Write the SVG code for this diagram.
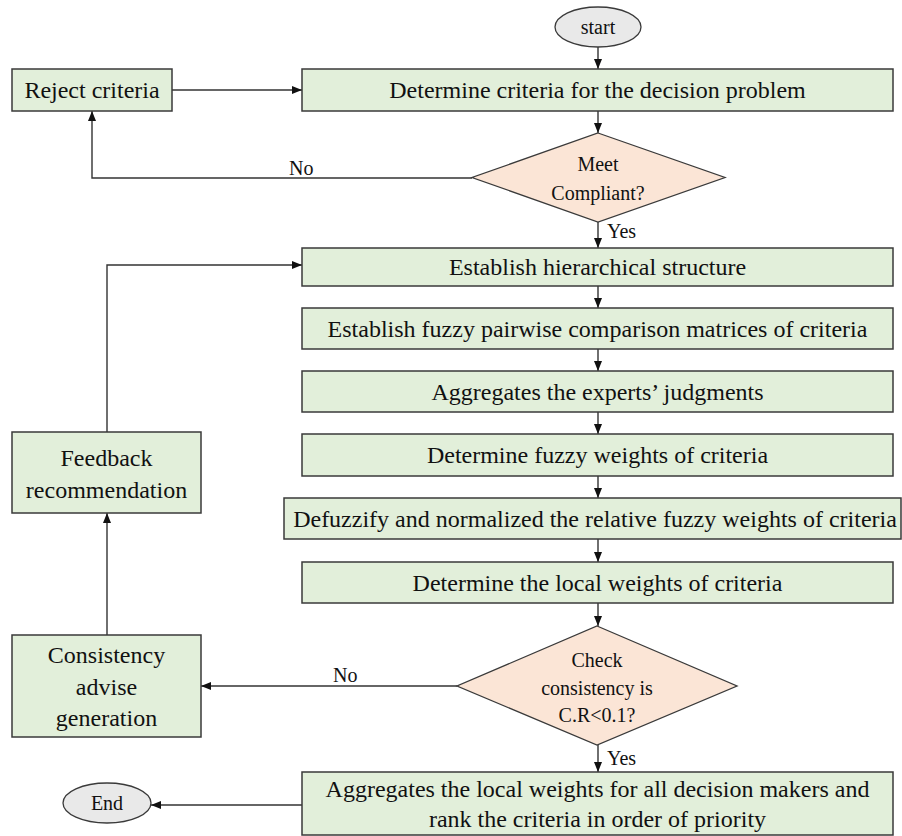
<svg xmlns="http://www.w3.org/2000/svg" width="902" height="836" viewBox="0 0 902 836">
  <defs>
    <style>
      .box { fill: #E2EFDA; stroke: #3a3a3a; stroke-width: 1.5; }
      .dec { fill: #FBE5D6; stroke: #3a3a3a; stroke-width: 1.3; }
      .term { fill: #E9E9E9; stroke: #3a3a3a; stroke-width: 1.3; }
      .big { font-family: "Liberation Serif", "Times New Roman", serif; font-size: 24px; text-anchor: middle; fill: #111; }
      .small { font-family: "Liberation Serif", "Times New Roman", serif; font-size: 20px; text-anchor: middle; fill: #111; }
      .lbl { font-family: "Liberation Serif", "Times New Roman", serif; font-size: 20px; fill: #111; }
      .edge { fill: none; stroke: #333; stroke-width: 1.4; }
    </style>
    <marker id="arrow" markerUnits="userSpaceOnUse" markerWidth="10" markerHeight="10" viewBox="0 0 10 10" refX="10" refY="5" orient="auto">
      <path d="M0,1 L10,5 L0,9 Z" fill="#111"/>
    </marker>
  </defs>
  <rect width="902" height="836" fill="#ffffff"/>

  <!-- connectors -->
  <g id="connectors">
    <path class="edge" d="M598,47 V69" marker-end="url(#arrow)"/>
    <path class="edge" d="M172,90 H302" marker-end="url(#arrow)"/>
    <path class="edge" d="M598,111 V133" marker-end="url(#arrow)"/>
    <path class="edge" d="M472,178 H92 V111" marker-end="url(#arrow)"/>
    <text class="lbl" x="289" y="175">No</text>
    <path class="edge" d="M598,222 V248" marker-end="url(#arrow)"/>
    <text class="lbl" x="607" y="238">Yes</text>
    <path class="edge" d="M598,286 V308" marker-end="url(#arrow)"/>
    <path class="edge" d="M598,349 V371" marker-end="url(#arrow)"/>
    <path class="edge" d="M598,412 V434" marker-end="url(#arrow)"/>
    <path class="edge" d="M598,476 V498" marker-end="url(#arrow)"/>
    <path class="edge" d="M598,539 V562" marker-end="url(#arrow)"/>
    <path class="edge" d="M598,603 V626" marker-end="url(#arrow)"/>
    <path class="edge" d="M457,686 H201" marker-end="url(#arrow)"/>
    <text class="lbl" x="333" y="682">No</text>
    <path class="edge" d="M598,745 V772" marker-end="url(#arrow)"/>
    <text class="lbl" x="607" y="765">Yes</text>
    <path class="edge" d="M302,805 H151" marker-end="url(#arrow)"/>
    <path class="edge" d="M107,635 V513" marker-end="url(#arrow)"/>
    <path class="edge" d="M107,432 V265 H302" marker-end="url(#arrow)"/>
  </g>

  <!-- nodes -->
  <g id="start">
    <ellipse class="term" cx="598" cy="27" rx="43" ry="20"/>
    <text class="small" x="598" y="34">start</text>
  </g>
  <g id="reject">
    <rect class="box" x="12" y="69" width="160" height="42"/>
    <text class="big" x="92" y="98">Reject criteria</text>
  </g>
  <g id="determine-criteria">
    <rect class="box" x="302" y="69" width="591" height="42"/>
    <text class="big" x="597.5" y="98">Determine criteria for the decision problem</text>
  </g>
  <g id="meet-compliant">
    <polygon class="dec" points="598,133 725,177.5 598,222 472,177.5"/>
    <text class="small" x="598" y="171">Meet</text>
    <text class="small" x="598" y="200">Compliant?</text>
  </g>
  <g id="hierarchy">
    <rect class="box" x="302" y="248" width="591" height="38"/>
    <text class="big" x="597.5" y="275">Establish hierarchical structure</text>
  </g>
  <g id="pairwise">
    <rect class="box" x="302" y="308" width="591" height="41"/>
    <text class="big" x="597.5" y="337">Establish fuzzy pairwise comparison matrices of criteria</text>
  </g>
  <g id="aggregate-experts">
    <rect class="box" x="302" y="371" width="591" height="41"/>
    <text class="big" x="597.5" y="400">Aggregates the experts’ judgments</text>
  </g>
  <g id="fuzzy-weights">
    <rect class="box" x="302" y="434" width="591" height="42"/>
    <text class="big" x="597.5" y="463">Determine fuzzy weights of criteria</text>
  </g>
  <g id="defuzzify">
    <rect class="box" x="284" y="498" width="617" height="41"/>
    <text class="big" x="595" y="527">Defuzzify and normalized the relative fuzzy weights of criteria</text>
  </g>
  <g id="local-weights">
    <rect class="box" x="302" y="562" width="591" height="41"/>
    <text class="big" x="597.5" y="591">Determine the local weights of criteria</text>
  </g>
  <g id="check-consistency">
    <polygon class="dec" points="597,626 737,686 597,745 457,686"/>
    <text class="small" x="597" y="667">Check</text>
    <text class="small" x="597" y="695">consistency is</text>
    <text class="small" x="597" y="722">C.R&lt;0.1?</text>
  </g>
  <g id="aggregate-local">
    <rect class="box" x="302" y="772" width="591" height="63"/>
    <text class="big" x="597.5" y="797">Aggregates the local weights for all decision makers and</text>
    <text class="big" x="597.5" y="827">rank the criteria in order of priority</text>
  </g>
  <g id="end">
    <ellipse class="term" cx="107" cy="803" rx="44" ry="20"/>
    <text class="small" x="107" y="810">End</text>
  </g>
  <g id="consistency-advise">
    <rect class="box" x="12" y="635" width="189" height="102"/>
    <text class="big" x="106.5" y="663">Consistency</text>
    <text class="big" x="106.5" y="695">advise</text>
    <text class="big" x="106.5" y="726">generation</text>
  </g>
  <g id="feedback">
    <rect class="box" x="12" y="432" width="189" height="81"/>
    <text class="big" x="106.5" y="466">Feedback</text>
    <text class="big" x="106.5" y="498">recommendation</text>
  </g>
</svg>
